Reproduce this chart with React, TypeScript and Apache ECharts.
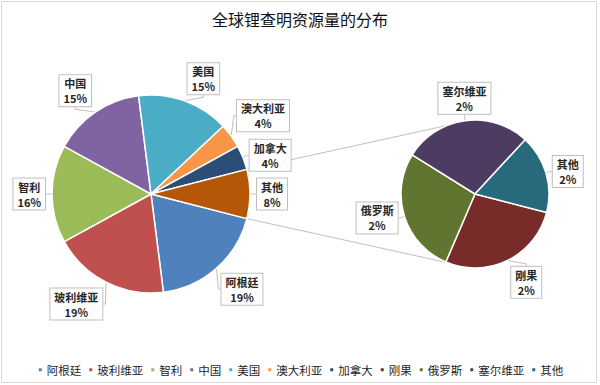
import React, { useEffect, useRef } from "react";
import * as echarts from "echarts";

const titleText = "全球锂查明资源量的分布";
const mainNames = ["阿根廷", "玻利维亚", "智利", "中国", "美国", "澳大利亚", "加拿大", "其他"];
const mainValues = [19, 19, 16, 15, 15, 4, 4, 8];
const mainColors = ["#4F81BD", "#C0504D", "#9BBB59", "#8064A2", "#4BACC6", "#F79646", "#2C4D75", "#B65708"];
const subNames = ["刚果", "俄罗斯", "塞尔维亚", "其他"];
const subValues = [2.4, 2.4, 2.45, 1.5];
const subColors = ["#772C2A", "#5F7530", "#4D3B62", "#276A7C"];
const legendNames = [...mainNames.slice(0, 7), ...subNames];

const MAIN_C = [151, 194];
const MAIN_R = 99;
const SUB_C = [475, 194];
const SUB_R = 74;
const SUB_START = -14.5;
const CONNECT_ANGLE = 112;
const LABEL_GAP = 6;

const sum = (a: number[]) => a.reduce((s, v) => s + v, 0);
const mainTotal = sum(mainValues);
const otherSpan = (mainValues[mainValues.length - 1] / mainTotal) * 360;
const MAIN_START = -otherSpan / 2;

function midAngles(values: number[], start: number) {
  const t = sum(values);
  let cum = 0;
  return values.map((v) => {
    const m = start - ((cum + v / 2) / t) * 360;
    cum += v;
    return m;
  });
}
const mainMid = midAngles(mainValues, MAIN_START);
const subMid = midAngles(subValues, SUB_START);

const rad = (d: number) => (d * Math.PI) / 180;
const pt = (c: number[], r: number, a: number) => [c[0] + r * Math.cos(rad(a)), c[1] - r * Math.sin(rad(a))];

function makeLayout(center: number[], r: number, mids: number[]) {
  return (params: any) => {
    const a = mids[params.dataIndex];
    const cs = Math.cos(rad(a));
    const sn = Math.sin(rad(a));
    const p = pt(center, r + LABEL_GAP, a);
    const w = params.labelRect.width;
    const h = params.labelRect.height;
    const hx = Math.abs(cs) < 0.25 ? 0 : cs > 0 ? 1 : -1;
    const vy = Math.abs(sn) < 0.4 ? 0 : sn > 0 ? -1 : 1;
    return {
      x: p[0] + (hx * w) / 2,
      y: p[1] + (vy * h) / 2,
      align: "center",
      verticalAlign: "middle",
    };
  };
}

const labelStyle = {
  show: true,
  position: "outside",
  formatter: (p: any) => `${p.name}\n${Math.round(p.value)}%`,
  fontSize: 11,
  lineHeight: 15,
  fontWeight: "bold",
  color: "#262626",
  fontFamily: "Noto Sans CJK SC",
  backgroundColor: "#ffffff",
  borderColor: "#BFBFBF",
  borderWidth: 1,
  padding: [1, 4, 0, 4],
  align: "center",
};

export default function App() {
  const ref = useRef<HTMLDivElement>(null);
  useEffect(() => {
    if (!ref.current) return;
    const chart = echarts.init(ref.current, null, { renderer: "svg" });
    const up1 = pt(MAIN_C, MAIN_R, otherSpan / 2);
    const dn1 = pt(MAIN_C, MAIN_R, -otherSpan / 2);
    const up2 = pt(SUB_C, SUB_R, CONNECT_ANGLE);
    const dn2 = pt(SUB_C, SUB_R, -CONNECT_ANGLE);
    chart.setOption({
      animation: false,
      backgroundColor: "#ffffff",
      title: {
        text: titleText,
        left: "center",
        top: 6,
        textStyle: { fontSize: 16, fontWeight: "normal", color: "#111111", fontFamily: "Noto Sans CJK SC" },
      },
      legend: {
        data: legendNames,
        left: "center",
        top: 359,
        icon: "rect",
        itemWidth: 5,
        itemHeight: 5,
        itemGap: 6,
        textStyle: { fontSize: 11.5, color: "#1f1f1f", fontFamily: "Noto Sans CJK SC", padding: [0, 0, 0, -1] },
      },
      graphic: [
        {
          type: "rect",
          shape: { x: 1.5, y: 1.5, width: 595, height: 381 },
          style: { fill: "none", stroke: "#D9D9D9", lineWidth: 1 },
          silent: true,
        },
        {
          type: "line",
          shape: { x1: up1[0], y1: up1[1], x2: up2[0], y2: up2[1] },
          style: { stroke: "#BFBFBF", lineWidth: 1 },
          silent: true,
        },
        {
          type: "line",
          shape: { x1: dn1[0], y1: dn1[1], x2: dn2[0], y2: dn2[1] },
          style: { stroke: "#BFBFBF", lineWidth: 1 },
          silent: true,
        },
      ],
      series: [
        {
          type: "pie",
          name: "sub",
          center: SUB_C,
          radius: SUB_R,
          startAngle: SUB_START,
          clockwise: true,
          avoidLabelOverlap: false,
          minShowLabelAngle: 0,
          itemStyle: { borderColor: "#ffffff", borderWidth: 1.5 },
          label: labelStyle,
          labelLine: { show: true, length: 3, length2: 2, lineStyle: { color: "#BFBFBF", width: 1 } },
          labelLayout: makeLayout(SUB_C, SUB_R, subMid),
          emphasis: { disabled: true },
          data: subNames.map((n, i) => ({ name: n, value: subValues[i], itemStyle: { color: subColors[i] } })),
        },
        {
          type: "pie",
          name: "main",
          center: MAIN_C,
          radius: MAIN_R,
          startAngle: MAIN_START,
          clockwise: true,
          avoidLabelOverlap: false,
          minShowLabelAngle: 0,
          itemStyle: { borderColor: "#ffffff", borderWidth: 1.5 },
          label: labelStyle,
          labelLine: { show: true, length: 3, length2: 2, lineStyle: { color: "#BFBFBF", width: 1 } },
          labelLayout: makeLayout(MAIN_C, MAIN_R, mainMid),
          emphasis: { disabled: true },
          data: mainNames.map((n, i) => ({ name: n, value: mainValues[i], itemStyle: { color: mainColors[i] } })),
        },
      ],
    });
    return () => chart.dispose();
  }, []);
  return (
    <div
      ref={ref}
      style={{ position: "fixed", left: 0, top: 0, width: 600, height: 385, background: "#fff" }}
    />
  );
}
